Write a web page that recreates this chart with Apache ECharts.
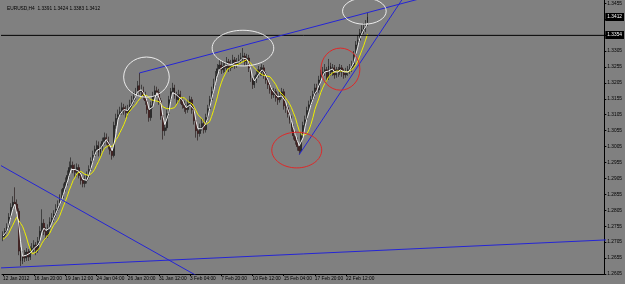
<!DOCTYPE html>
<html><head><meta charset="utf-8">
<script src="https://cdn.jsdelivr.net/npm/echarts@6/dist/echarts.min.js"></script>
<style>html,body{margin:0;padding:0;background:#808080}#c{width:625px;height:284px}</style>
</head><body><div id="c"></div>
<script>
const titleText = 'EURUSD,H4  1.3391 1.3424 1.3383 1.3412';
const tickLabels = ['12 Jan 2012','16 Jan 20:00','19 Jan 12:00','24 Jan 04:00','26 Jan 20:00','31 Jan 12:00','3 Feb 04:00','7 Feb 20:00','10 Feb 12:00','15 Feb 04:00','17 Feb 20:00','22 Feb 12:00'];
const barsPerLabel = 16;
const slotCount = 309;           // bars + empty chart shift on the right
const priceMin = 1.2605, priceMax = 1.3465, priceStep = 0.005;

const opens = [1.2721,1.2727,1.2739,1.2752,1.2783,1.2814,1.2830,1.2824,1.2802,1.2677,
1.2646,1.2664,1.2655,1.2674,1.2658,1.2677,1.2686,1.2696,1.2680,1.2708,
1.2739,1.2764,1.2739,1.2727,1.2749,1.2768,1.2780,1.2793,1.2808,1.2821,
1.2839,1.2852,1.2874,1.2893,1.2914,1.2939,1.2946,1.2933,1.2924,1.2939,
1.2914,1.2899,1.2889,1.2899,1.2911,1.2933,1.2958,1.2977,1.2996,1.3008,
1.2986,1.3002,1.3021,1.3033,1.3024,1.3008,1.2992,1.2977,1.3071,1.3093,
1.3105,1.3114,1.3127,1.3118,1.3111,1.3121,1.3136,1.3149,1.3161,1.3174,
1.3196,1.3177,1.3180,1.3164,1.3149,1.3121,1.3096,1.3133,1.3164,1.3180,
1.3174,1.3149,1.3102,1.3055,1.3064,1.3108,1.3152,1.3177,1.3189,1.3164,
1.3152,1.3168,1.3152,1.3136,1.3127,1.3121,1.3139,1.3152,1.3121,1.3086,
1.3055,1.3046,1.3064,1.3077,1.3058,1.3096,1.3124,1.3152,1.3177,1.3202,
1.3227,1.3249,1.3261,1.3246,1.3258,1.3252,1.3271,1.3252,1.3261,1.3277,
1.3261,1.3271,1.3277,1.3283,1.3289,1.3271,1.3283,1.3252,1.3221,1.3199,
1.3214,1.3230,1.3246,1.3239,1.3252,1.3230,1.3214,1.3199,1.3183,1.3168,
1.3177,1.3158,1.3152,1.3164,1.3177,1.3133,1.3127,1.3108,1.3089,1.3064,
1.3039,1.3024,1.3005,1.2992,1.3039,1.3071,1.3089,1.3118,1.3136,1.3152,
1.3168,1.3189,1.3183,1.3214,1.3230,1.3239,1.3246,1.3221,1.3258,1.3239,
1.3252,1.3230,1.3246,1.3239,1.3252,1.3239,1.3230,1.3239,1.3246,1.3252,
1.3261,1.3293,1.3324,1.3339,1.3361,1.3371,1.3377,1.3391];

const closes = [1.2727,1.2739,1.2752,1.2783,1.2814,1.2830,1.2824,1.2802,1.2677,1.2646,
1.2664,1.2655,1.2674,1.2658,1.2677,1.2686,1.2696,1.2680,1.2708,1.2739,
1.2764,1.2739,1.2727,1.2749,1.2768,1.2780,1.2793,1.2808,1.2821,1.2839,
1.2852,1.2874,1.2893,1.2914,1.2939,1.2946,1.2933,1.2924,1.2939,1.2914,
1.2899,1.2889,1.2899,1.2911,1.2933,1.2958,1.2977,1.2996,1.3008,1.2986,
1.3002,1.3021,1.3033,1.3024,1.3008,1.2992,1.2977,1.3071,1.3093,1.3105,
1.3114,1.3127,1.3118,1.3111,1.3121,1.3136,1.3149,1.3161,1.3174,1.3196,
1.3177,1.3180,1.3164,1.3149,1.3121,1.3096,1.3133,1.3164,1.3180,1.3174,
1.3149,1.3102,1.3055,1.3064,1.3108,1.3152,1.3177,1.3189,1.3164,1.3152,
1.3168,1.3152,1.3136,1.3127,1.3121,1.3139,1.3152,1.3121,1.3086,1.3055,
1.3046,1.3064,1.3077,1.3058,1.3096,1.3124,1.3152,1.3177,1.3202,1.3227,
1.3249,1.3261,1.3246,1.3258,1.3252,1.3271,1.3252,1.3261,1.3277,1.3261,
1.3271,1.3277,1.3283,1.3289,1.3271,1.3283,1.3252,1.3221,1.3199,1.3214,
1.3230,1.3246,1.3239,1.3252,1.3230,1.3214,1.3199,1.3183,1.3168,1.3177,
1.3158,1.3152,1.3164,1.3177,1.3133,1.3127,1.3108,1.3089,1.3064,1.3039,
1.3024,1.3005,1.2992,1.3039,1.3071,1.3089,1.3118,1.3136,1.3152,1.3168,
1.3189,1.3183,1.3214,1.3230,1.3239,1.3246,1.3221,1.3258,1.3239,1.3252,
1.3230,1.3246,1.3239,1.3252,1.3239,1.3230,1.3239,1.3246,1.3252,1.3261,
1.3293,1.3324,1.3339,1.3361,1.3371,1.3377,1.3391,1.3412];

const highs = [1.2739,1.2749,1.2764,1.2796,1.2827,1.2849,1.2877,1.2839,1.2811,1.2689,
1.2677,1.2680,1.2686,1.2683,1.2692,1.2702,1.2711,1.2705,1.2721,1.2755,
1.2808,1.2777,1.2752,1.2761,1.2783,1.2796,1.2805,1.2824,1.2836,1.2855,
1.2871,1.2889,1.2908,1.2930,1.2958,1.2971,1.2958,1.2949,1.2952,1.2949,
1.2927,1.2911,1.2914,1.2927,1.2946,1.2971,1.2992,1.3008,1.3024,1.3021,
1.3014,1.3033,1.3049,1.3046,1.3036,1.3018,1.3002,1.3083,1.3108,1.3121,
1.3130,1.3143,1.3139,1.3133,1.3136,1.3152,1.3164,1.3177,1.3189,1.3211,
1.3236,1.3199,1.3193,1.3177,1.3158,1.3133,1.3146,1.3177,1.3196,1.3193,
1.3186,1.3158,1.3111,1.3083,1.3121,1.3164,1.3189,1.3205,1.3199,1.3177,
1.3183,1.3180,1.3161,1.3149,1.3139,1.3152,1.3164,1.3161,1.3130,1.3096,
1.3071,1.3077,1.3093,1.3089,1.3108,1.3136,1.3164,1.3193,1.3218,1.3242,
1.3264,1.3277,1.3274,1.3271,1.3271,1.3286,1.3280,1.3277,1.3293,1.3286,
1.3283,1.3293,1.3299,1.3314,1.3299,1.3296,1.3293,1.3261,1.3230,1.3227,
1.3242,1.3258,1.3255,1.3264,1.3261,1.3239,1.3224,1.3208,1.3193,1.3189,
1.3186,1.3171,1.3177,1.3189,1.3186,1.3146,1.3136,1.3118,1.3102,1.3074,
1.3052,1.3033,1.3014,1.3052,1.3083,1.3102,1.3130,1.3149,1.3164,1.3180,
1.3202,1.3202,1.3227,1.3246,1.3255,1.3264,1.3255,1.3280,1.3268,1.3264,
1.3261,1.3255,1.3255,1.3264,1.3261,1.3249,1.3252,1.3258,1.3264,1.3274,
1.3305,1.3336,1.3355,1.3374,1.3386,1.3393,1.3402,1.3424];

const lows = [1.2708,1.2718,1.2733,1.2746,1.2774,1.2805,1.2814,1.2789,1.2664,1.2630,
1.2636,1.2643,1.2646,1.2646,1.2649,1.2668,1.2674,1.2664,1.2671,1.2699,
1.2730,1.2727,1.2714,1.2718,1.2739,1.2758,1.2768,1.2783,1.2799,1.2811,
1.2830,1.2843,1.2864,1.2883,1.2905,1.2927,1.2921,1.2911,1.2911,1.2905,
1.2886,1.2877,1.2877,1.2889,1.2902,1.2924,1.2949,1.2968,1.2986,1.2974,
1.2974,1.2992,1.3011,1.3011,1.2996,1.2980,1.2964,1.2971,1.3061,1.3080,
1.3096,1.3105,1.3105,1.3096,1.3099,1.3111,1.3127,1.3139,1.3152,1.3164,
1.3168,1.3161,1.3152,1.3136,1.3108,1.3083,1.3086,1.3124,1.3155,1.3161,
1.3136,1.3089,1.3027,1.3039,1.3055,1.3099,1.3143,1.3168,1.3155,1.3139,
1.3143,1.3139,1.3124,1.3114,1.3108,1.3111,1.3130,1.3108,1.3074,1.3033,
1.3024,1.3036,1.3055,1.3046,1.3049,1.3086,1.3114,1.3143,1.3168,1.3193,
1.3218,1.3239,1.3233,1.3236,1.3239,1.3242,1.3239,1.3242,1.3252,1.3249,
1.3252,1.3258,1.3268,1.3274,1.3258,1.3261,1.3239,1.3208,1.3186,1.3189,
1.3205,1.3221,1.3227,1.3227,1.3218,1.3202,1.3186,1.3171,1.3155,1.3158,
1.3146,1.3136,1.3143,1.3155,1.3121,1.3111,1.3096,1.3077,1.3052,1.3027,
1.3011,1.2992,1.2980,1.2986,1.3030,1.3061,1.3080,1.3108,1.3127,1.3143,
1.3158,1.3171,1.3174,1.3205,1.3221,1.3227,1.3208,1.3214,1.3227,1.3227,
1.3218,1.3221,1.3224,1.3230,1.3224,1.3218,1.3221,1.3227,1.3233,1.3239,
1.3252,1.3283,1.3311,1.3330,1.3352,1.3358,1.3364,1.3383];

const fastMA = [1.2724,1.2730,1.2739,1.2758,1.2783,1.2808,1.2824,1.2818,1.2768,1.2708,
1.2661,1.2655,1.2664,1.2661,1.2671,1.2674,1.2686,1.2686,1.2696,1.2708,
1.2736,1.2749,1.2742,1.2739,1.2749,1.2764,1.2780,1.2793,1.2808,1.2824,
1.2836,1.2855,1.2874,1.2893,1.2914,1.2933,1.2939,1.2933,1.2933,1.2927,
1.2918,1.2902,1.2896,1.2899,1.2914,1.2933,1.2955,1.2977,1.2992,1.2996,
1.2999,1.3002,1.3018,1.3027,1.3021,1.3008,1.2992,1.3014,1.3046,1.3089,
1.3105,1.3114,1.3121,1.3118,1.3118,1.3124,1.3136,1.3149,1.3161,1.3177,
1.3183,1.3183,1.3174,1.3164,1.3146,1.3121,1.3118,1.3130,1.3158,1.3174,
1.3168,1.3143,1.3102,1.3074,1.3077,1.3108,1.3146,1.3174,1.3177,1.3168,
1.3161,1.3158,1.3152,1.3139,1.3127,1.3130,1.3136,1.3136,1.3121,1.3086,
1.3061,1.3055,1.3061,1.3068,1.3077,1.3093,1.3124,1.3152,1.3177,1.3202,
1.3227,1.3246,1.3252,1.3255,1.3252,1.3261,1.3258,1.3261,1.3264,1.3268,
1.3271,1.3271,1.3277,1.3283,1.3280,1.3280,1.3268,1.3252,1.3224,1.3211,
1.3214,1.3230,1.3239,1.3246,1.3239,1.3233,1.3214,1.3199,1.3183,1.3177,
1.3168,1.3161,1.3158,1.3164,1.3158,1.3146,1.3124,1.3108,1.3086,1.3064,
1.3043,1.3024,1.3008,1.3011,1.3033,1.3068,1.3093,1.3114,1.3136,1.3152,
1.3171,1.3180,1.3196,1.3208,1.3227,1.3239,1.3236,1.3242,1.3239,1.3249,
1.3239,1.3242,1.3239,1.3246,1.3242,1.3239,1.3236,1.3239,1.3246,1.3252,
1.3268,1.3293,1.3317,1.3343,1.3358,1.3371,1.3380,1.3393];

const slowMA = [1.2714,1.2718,1.2724,1.2733,1.2746,1.2758,1.2771,1.2783,1.2777,1.2764,
1.2755,1.2739,1.2721,1.2699,1.2683,1.2668,1.2671,1.2674,1.2680,1.2689,
1.2702,1.2711,1.2718,1.2724,1.2733,1.2746,1.2758,1.2764,1.2774,1.2786,
1.2802,1.2818,1.2833,1.2849,1.2868,1.2883,1.2899,1.2908,1.2921,1.2924,
1.2927,1.2924,1.2918,1.2914,1.2914,1.2918,1.2924,1.2933,1.2946,1.2958,
1.2971,1.2986,1.2999,1.3005,1.3008,1.3008,1.3005,1.3014,1.3027,1.3036,
1.3049,1.3061,1.3074,1.3089,1.3108,1.3114,1.3124,1.3130,1.3136,1.3146,
1.3152,1.3161,1.3168,1.3168,1.3164,1.3158,1.3152,1.3149,1.3149,1.3149,
1.3146,1.3139,1.3130,1.3127,1.3124,1.3124,1.3124,1.3124,1.3127,1.3133,
1.3146,1.3158,1.3161,1.3158,1.3152,1.3146,1.3143,1.3139,1.3130,1.3118,
1.3105,1.3099,1.3093,1.3083,1.3074,1.3077,1.3083,1.3099,1.3118,1.3139,
1.3161,1.3186,1.3205,1.3221,1.3233,1.3246,1.3252,1.3255,1.3258,1.3260,
1.3262,1.3264,1.3269,1.3271,1.3274,1.3277,1.3274,1.3268,1.3258,1.3252,
1.3246,1.3239,1.3236,1.3230,1.3230,1.3227,1.3227,1.3224,1.3218,1.3208,
1.3199,1.3186,1.3177,1.3171,1.3164,1.3158,1.3149,1.3139,1.3127,1.3111,
1.3096,1.3074,1.3055,1.3046,1.3039,1.3039,1.3046,1.3058,1.3075,1.3096,
1.3121,1.3139,1.3155,1.3174,1.3189,1.3202,1.3211,1.3224,1.3230,1.3236,
1.3239,1.3242,1.3242,1.3242,1.3246,1.3241,1.3241,1.3239,1.3242,1.3246,
1.3252,1.3261,1.3274,1.3289,1.3305,1.3321,1.3339,1.3358];

// drawn objects, anchored at [bar index, price]
const horizontalLevel = 1.3354;
const lastPrice = 1.3412;
const horizontalLine = [[-5, horizontalLevel], [330, horizontalLevel]];
const trendUpper  = [[70, 1.3236], [230, 1.3495]];
const trendSteep  = [[152, 1.2980], [215, 1.3561]];
const trendFall   = [[-3, 1.2952], [110, 1.2563]];
const trendBase   = [[-5, 1.2623], [320, 1.2715]];
// [bar, price, radius in bars, radius in price]
const whiteRings = [[73.6, 1.3223, 11.7, 0.0063], [123.1, 1.3314, 15.8, 0.0056], [185.4, 1.3430, 11.2, 0.0041]];
const redRings   = [[150.7, 1.2994, 12.8, 0.0056], [173.1, 1.3248, 10.0, 0.0066]];

const FONT = 'Liberation Sans';
const FS = 4.8;
const slots = Array.from({length: slotCount}, (_, i) => String(i));
const showTick = (i) => i % barsPerLabel === 0 && i < opens.length;

const chart = echarts.init(document.getElementById('c'), null, {renderer: 'canvas'});
const segment = (data, color, z) => ({
  type: 'line', data, showSymbol: false, symbol: 'none', clip: true, silent: true, z,
  lineStyle: {color, width: 1}, animation: false
});

chart.setOption({
  backgroundColor: '#808080',
  animation: false,
  title: {text: titleText, left: 2, top: 1,
    textStyle: {fontSize: FS, fontFamily: FONT, color: '#000', fontWeight: 'normal'}},
  grid: {left: 0, right: 20, top: 0, bottom: 10},
  xAxis: {
    type: 'category', data: slots, boundaryGap: true,
    axisLine: {lineStyle: {color: '#000', width: 1}},
    axisTick: {show: true, length: 2, interval: showTick, alignWithLabel: true, lineStyle: {color: '#000'}},
    axisLabel: {interval: showTick, formatter: (v, i) => tickLabels[i / barsPerLabel] || '',
      align: 'left', margin: 2, fontSize: FS, fontFamily: FONT, color: '#000'},
    splitLine: {show: false}
  },
  yAxis: {
    type: 'value', position: 'right', min: priceMin, max: priceMax, interval: priceStep,
    axisLine: {show: true, lineStyle: {color: '#000'}},
    axisTick: {show: true, length: 2, lineStyle: {color: '#000'}},
    axisLabel: {showMaxLabel: false, formatter: v => v.toFixed(4), margin: 3,
      fontSize: FS, fontFamily: FONT, color: '#000'},
    splitLine: {show: false}
  },
  series: [
    {
      type: 'candlestick', z: 2,
      data: opens.map((o, i) => [o, closes[i], lows[i], highs[i]]),
      barWidth: 1.4,
      itemStyle: {color: '#202020', color0: '#7a1212', borderColor: '#141414', borderColor0: '#1a0c0c', borderWidth: 0.6}
    },
    {type: 'line', data: fastMA, symbol: 'none', z: 4, silent: true, lineStyle: {color: '#f0f0f0', width: 1}},
    {type: 'line', data: slowMA, symbol: 'none', z: 3, silent: true, lineStyle: {color: '#eeee00', width: 1}},
    segment(horizontalLine, '#000000', 5),
    segment(trendUpper, '#2424d6', 6), segment(trendSteep, '#2424d6', 6),
    segment(trendFall, '#2424d6', 6), segment(trendBase, '#2424d6', 6)
  ]
});

// ellipses and price boxes anchored at bar/price through the chart's own scales
const toPx = (bar, price) => chart.convertToPixel({xAxisIndex: 0, yAxisIndex: 0}, [bar, price]);
const p0 = toPx(0, priceMin);
const barPx = (toPx(100, priceMin)[0] - p0[0]) / 100;
const yPx = (price) => toPx(0, price)[1];
const plotRight = toPx(slotCount - 1, priceMin)[0] + barPx / 2;
const ring = (r, color) => ({
  type: 'ellipse', silent: true, z: 20,
  shape: {cx: p0[0] + r[0] * barPx, cy: yPx(r[1]), rx: r[2] * barPx, ry: Math.abs(yPx(r[1] + r[3]) - yPx(r[1]))},
  style: {fill: 'none', stroke: color, lineWidth: 1}
});
const priceBox = (price) => ({
  type: 'text', silent: true, z: 30,
  x: plotRight + 1, y: Math.round(yPx(price)),
  style: {text: price.toFixed(4), fill: '#fff', backgroundColor: '#000', padding: [2, 2, 1, 2],
    font: FS + 'px "' + FONT + '"', verticalAlign: 'middle', align: 'left'}
});
chart.setOption({graphic: [
  ...whiteRings.map(r => ring(r, '#ececec')),
  ...redRings.map(r => ring(r, '#e02828')),
  priceBox(horizontalLevel), priceBox(lastPrice)
]});
</script>
</body></html>
